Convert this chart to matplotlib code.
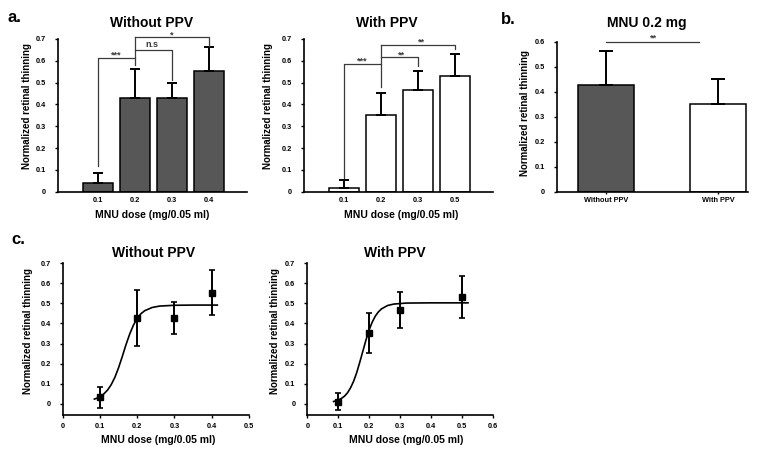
import matplotlib.pyplot as plt

plt.rcParams['font.family'] = ['Liberation Sans', 'DejaVu Sans']
plt.rcParams['font.weight'] = 'bold'

W, H = 760, 457

# panel a: bar heights and upper error
doses_without = ['0.1', '0.2', '0.3', '0.4']
thin_without = [0.038, 0.428, 0.428, 0.554]
err_without = [0.047, 0.136, 0.072, 0.108]
doses_with = ['0.1', '0.2', '0.3', '0.5']
thin_with = [0.015, 0.353, 0.465, 0.53]
err_with = [0.039, 0.099, 0.089, 0.102]

# panel b
groups_b = ['Without PPV', 'With PPV']
thin_b = [0.428, 0.353]
err_b = [0.136, 0.097]

# panel c: points with sd
dose_c_without = [0.1, 0.2, 0.3, 0.4]
mean_c_without = [0.033, 0.427, 0.426, 0.553]
sd_c_without = [0.053, 0.137, 0.078, 0.113]
dose_c_with = [0.1, 0.2, 0.3, 0.5]
mean_c_with = [0.012, 0.353, 0.466, 0.53]
sd_c_with = [0.042, 0.101, 0.091, 0.105]

# fitted sigmoid curves
fit_x_without = [0.085, 0.10, 0.11, 0.12, 0.13, 0.14, 0.15, 0.16, 0.17, 0.18,
                 0.19, 0.20, 0.21, 0.22, 0.24, 0.26, 0.30, 0.35, 0.415]
fit_y_without = [0.024, 0.034, 0.049, 0.068, 0.095, 0.132, 0.180, 0.236, 0.295, 0.348,
                 0.392, 0.425, 0.448, 0.463, 0.479, 0.486, 0.490, 0.491, 0.491]
fit_x_with = [0.085, 0.10, 0.11, 0.12, 0.13, 0.14, 0.15, 0.16, 0.17, 0.18, 0.19,
              0.20, 0.21, 0.22, 0.23, 0.24, 0.26, 0.28, 0.32, 0.40, 0.52]
fit_y_with = [0.012, 0.019, 0.027, 0.038, 0.055, 0.080, 0.113, 0.156, 0.208, 0.263, 0.318,
              0.367, 0.406, 0.436, 0.457, 0.472, 0.489, 0.496, 0.501, 0.502, 0.502]

dark = '#575757'


def box(l, r, top, bottom):
    return [l / W, 1 - bottom / H, (r - l) / W, (bottom - top) / H]


def style(ax):
    for s in ['top', 'right']:
        ax.spines[s].set_visible(False)
    for s in ['left', 'bottom']:
        ax.spines[s].set_linewidth(1.2)
    ax.tick_params(direction='out', length=2.5, width=1, labelsize=5.3, pad=6)


def ftext(x, y, s, size, **kw):
    fig.text(x / W, 1 - y / H, s, fontsize=size, fontweight='bold',
             ha='center', va='center', **kw)


def bracket(ax, xs, ys, lab, lx, ly):
    ax.plot(xs, ys, color='#3a3a3a', lw=0.9, clip_on=False)
    ax.text(lx, ly, lab, fontsize=6.5, color='#3a3a3a', ha='center', va='center')


fig = plt.figure(figsize=(7.6, 4.57), dpi=100)

# a, left
ax1 = fig.add_axes(box(58, 247, 39, 191.7))
x = range(len(doses_without))
ax1.bar(x, thin_without, width=0.8, color=dark, edgecolor='black', lw=1.1)
ax1.errorbar(x, thin_without, yerr=[[0] * 4, err_without], fmt='none',
             ecolor='black', elinewidth=1.4, capsize=3.6, capthick=1.4)
ax1.set_xlim(-1.08, 4.03)
ax1.set_ylim(0, 0.7)
ax1.set_xticks(list(x))
ax1.set_xticklabels(doses_without)
ax1.set_yticks([0, 0.1, 0.2, 0.3, 0.4, 0.5, 0.6, 0.7])
ax1.set_yticklabels(['0', '0.1', '0.2', '0.3', '0.4', '0.5', '0.6', '0.7'])
style(ax1)
ax1.tick_params(axis='x', length=0, pad=4)
bracket(ax1, [0, 0, 1], [0.12, 0.613, 0.613], '***', 0.5, 0.625)
bracket(ax1, [1, 1], [0.58, 0.709], '', 1, 0.6)
bracket(ax1, [1, 2, 2], [0.651, 0.651, 0.51], 'n.s', 1.45, 0.675)
bracket(ax1, [1, 3, 3], [0.709, 0.709, 0.67], '*', 2.0, 0.718)

# a, right
ax2 = fig.add_axes(box(304, 493, 39, 191.7))
x = range(len(doses_with))
ax2.bar(x, thin_with, width=0.8, color='white', edgecolor='black', lw=1.1)
ax2.errorbar(x, thin_with, yerr=[[0] * 4, err_with], fmt='none',
             ecolor='black', elinewidth=1.4, capsize=3.6, capthick=1.4)
ax2.set_xlim(-1.08, 4.03)
ax2.set_ylim(0, 0.7)
ax2.set_xticks(list(x))
ax2.set_xticklabels(doses_with)
ax2.set_yticks([0, 0.1, 0.2, 0.3, 0.4, 0.5, 0.6, 0.7])
ax2.set_yticklabels(['0', '0.1', '0.2', '0.3', '0.4', '0.5', '0.6', '0.7'])
style(ax2)
ax2.tick_params(axis='x', length=0, pad=4)
bracket(ax2, [0, 0, 1], [0.065, 0.585, 0.585], '***', 0.5, 0.597)
bracket(ax2, [1, 1], [0.48, 0.674], '', 1, 0.6)
bracket(ax2, [1, 2, 2], [0.616, 0.616, 0.574], '**', 1.56, 0.628)
bracket(ax2, [1, 3, 3], [0.674, 0.674, 0.654], '**', 2.1, 0.686)

# b
ax3 = fig.add_axes(box(557, 748, 41.7, 192))
x = range(len(groups_b))
ax3.bar(x, thin_b, width=0.5, color=[dark, 'white'], edgecolor='black', lw=1.1)
ax3.errorbar(x, thin_b, yerr=[[0] * 2, err_b], fmt='none',
             ecolor='black', elinewidth=1.4, capsize=5, capthick=1.4)
ax3.set_xlim(-0.44, 1.27)
ax3.set_ylim(0, 0.6)
ax3.set_xticks(list(x))
ax3.set_xticklabels(groups_b)
ax3.set_yticks([0, 0.1, 0.2, 0.3, 0.4, 0.5, 0.6])
ax3.set_yticklabels(['0', '0.1', '0.2', '0.3', '0.4', '0.5', '0.6'])
style(ax3)
ax3.tick_params(axis='x', length=1.5, pad=2)
bracket(ax3, [0, 0.83], [0.598, 0.598], '**', 0.42, 0.615)

# c, left
ax4 = fig.add_axes(box(62.7, 249, 263, 415))
ax4.plot(fit_x_without, fit_y_without, color='black', lw=1.2)
ax4.errorbar(dose_c_without, mean_c_without, yerr=sd_c_without, fmt='s',
             color='black', ms=4.5, elinewidth=1.4, capsize=2, capthick=1.2)
ax4.set_xlim(0, 0.5)
ax4.set_ylim(-0.055, 0.7)
ax4.set_xticks([0, 0.1, 0.2, 0.3, 0.4, 0.5])
ax4.set_xticklabels(['0', '0.1', '0.2', '0.3', '0.4', '0.5'])
ax4.set_yticks([0, 0.1, 0.2, 0.3, 0.4, 0.5, 0.6, 0.7])
ax4.set_yticklabels(['0', '0.1', '0.2', '0.3', '0.4', '0.5', '0.6', '0.7'])
style(ax4)
ax4.tick_params(axis='x', pad=3)

# c, right
ax5 = fig.add_axes(box(307.3, 492.7, 263, 415))
ax5.plot(fit_x_with, fit_y_with, color='black', lw=1.2)
ax5.errorbar(dose_c_with, mean_c_with, yerr=sd_c_with, fmt='s',
             color='black', ms=4.5, elinewidth=1.4, capsize=2, capthick=1.2)
ax5.set_xlim(0, 0.6)
ax5.set_ylim(-0.055, 0.7)
ax5.set_xticks([0, 0.1, 0.2, 0.3, 0.4, 0.5, 0.6])
ax5.set_xticklabels(['0', '0.1', '0.2', '0.3', '0.4', '0.5', '0.6'])
ax5.set_yticks([0, 0.1, 0.2, 0.3, 0.4, 0.5, 0.6, 0.7])
ax5.set_yticklabels(['0', '0.1', '0.2', '0.3', '0.4', '0.5', '0.6', '0.7'])
style(ax5)
ax5.tick_params(axis='x', pad=3)

# titles, labels, panel letters
ftext(14, 17, 'a.', 12)
ftext(508, 19, 'b.', 12)
ftext(18, 240, 'c.', 12)
ftext(152, 23, 'Without PPV', 10)
ftext(387, 23, 'With PPV', 10)
ftext(647, 23, 'MNU 0.2 mg', 10)
ftext(153.5, 253, 'Without PPV', 10)
ftext(395, 253, 'With PPV', 10)
xlab = 'MNU dose (mg/0.05 ml)'
ftext(152.5, 215, xlab, 7.5)
ftext(401.5, 215, xlab, 7.5)
ftext(158, 440, xlab, 7.5)
ftext(406.5, 440, xlab, 7.5)
ylab = 'Normalized retinal thinning'
for (yx, yy) in [(27, 106), (268, 106), (525.5, 113), (28, 331), (275, 331)]:
    ftext(yx, yy, ylab, 7, rotation=90)

fig.savefig('out.png', dpi=100)
